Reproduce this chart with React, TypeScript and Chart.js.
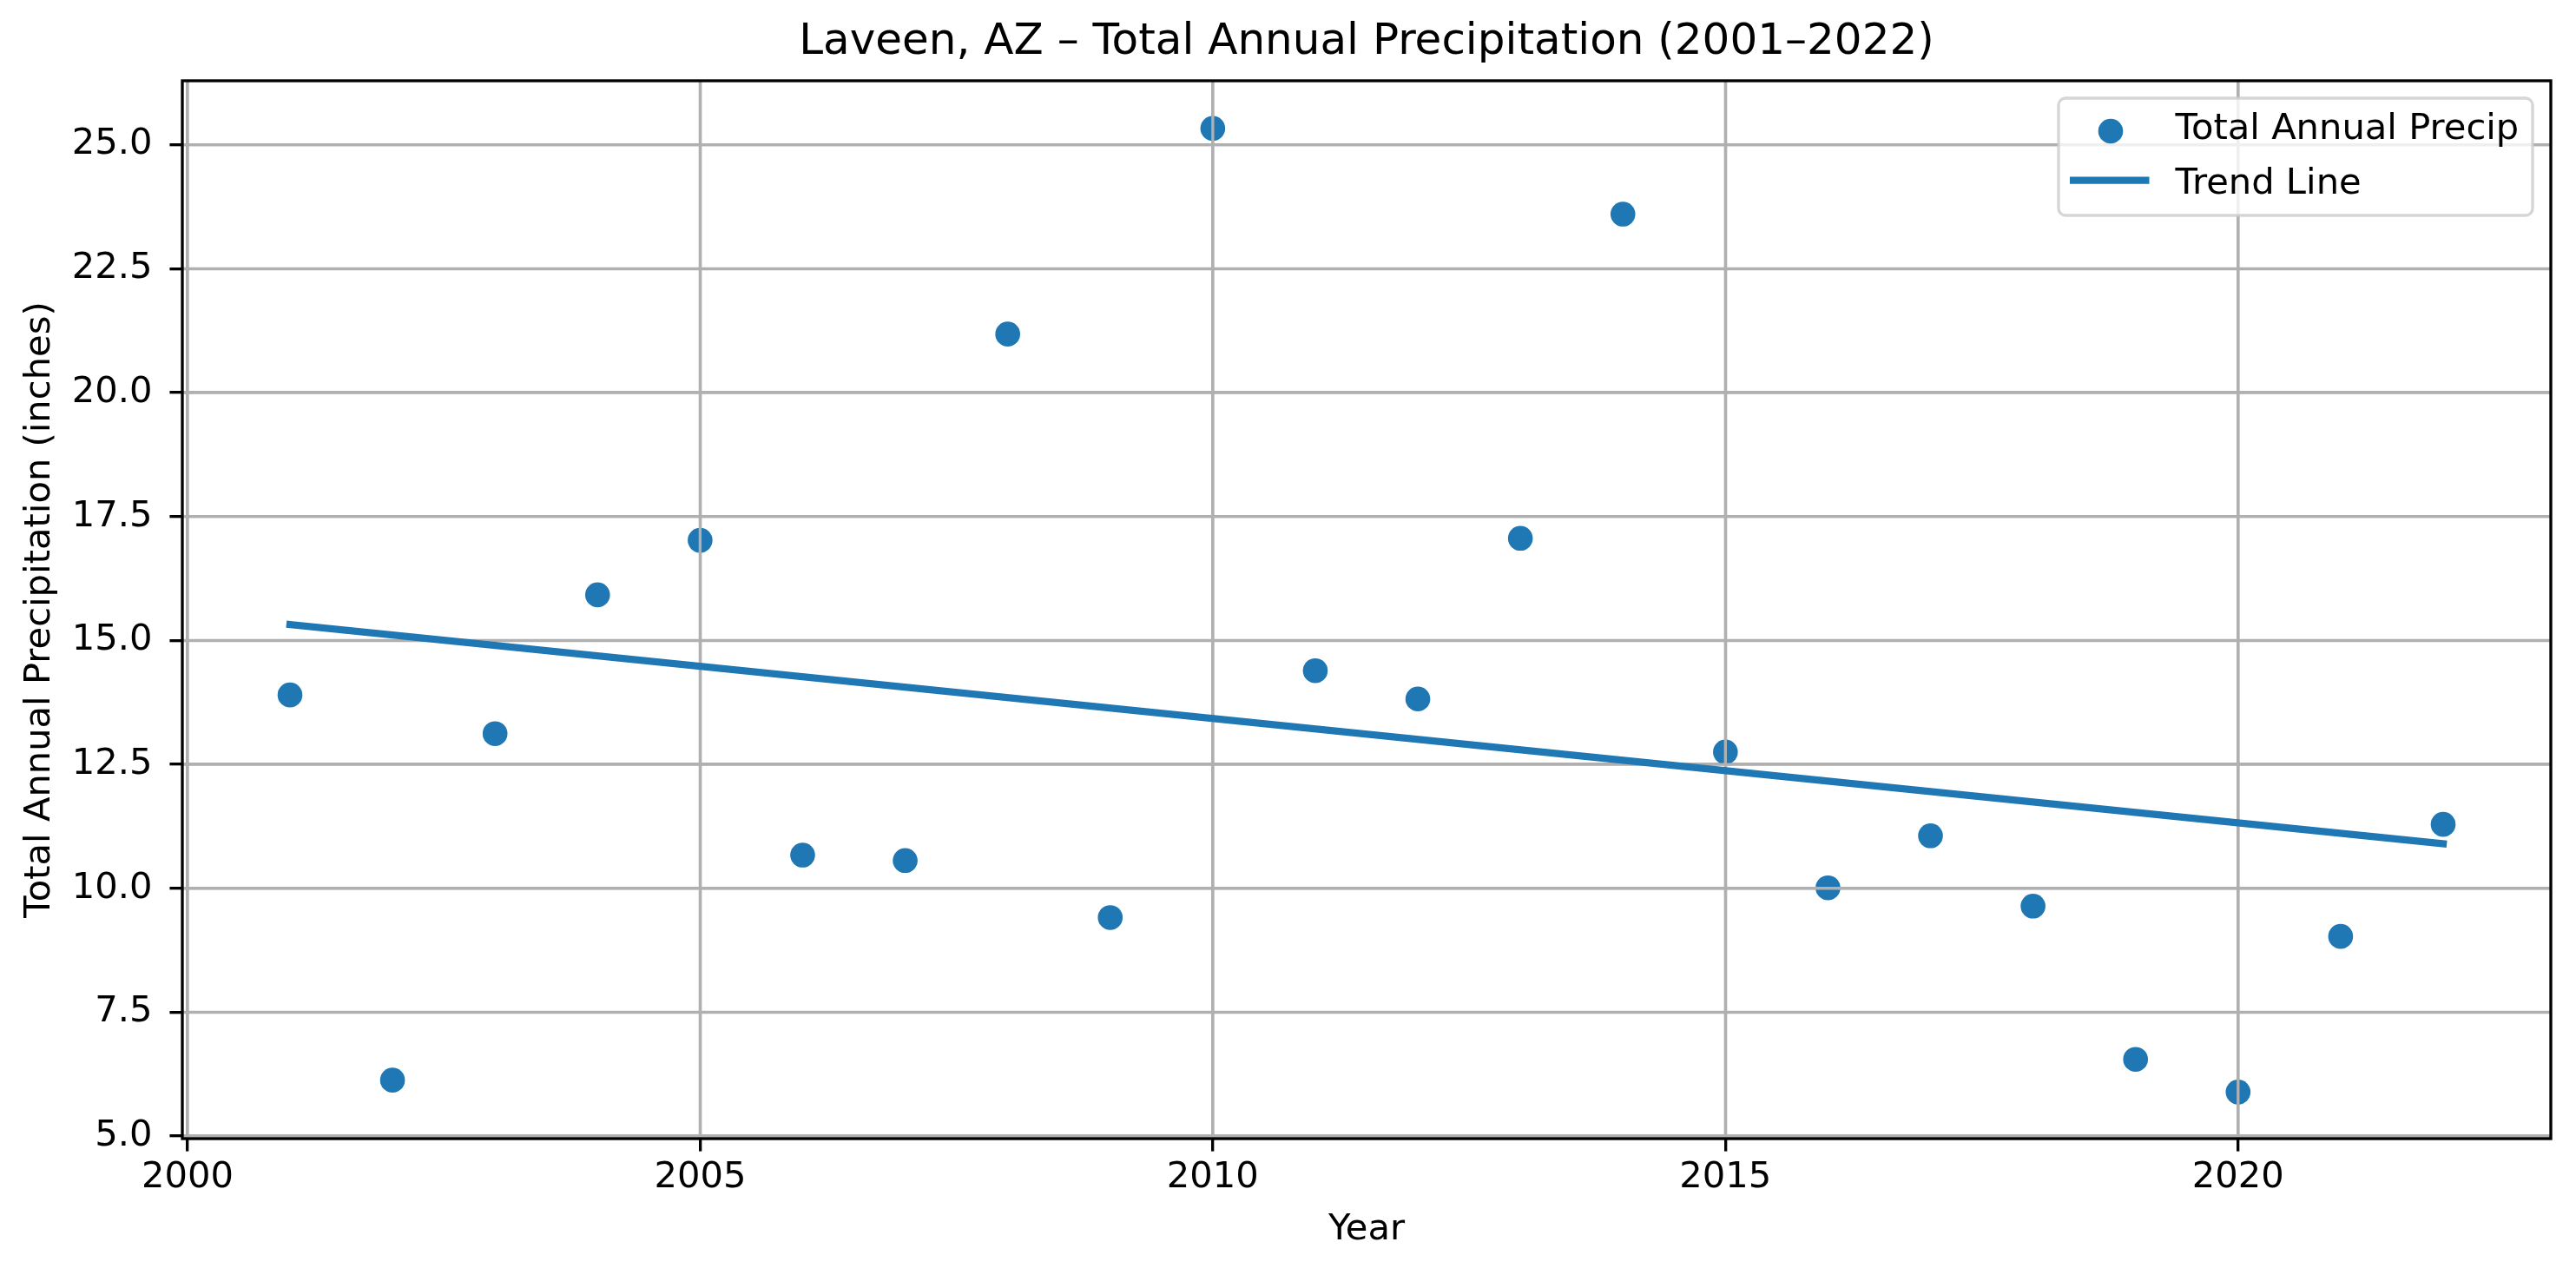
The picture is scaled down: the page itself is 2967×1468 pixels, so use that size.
import React, { useEffect, useRef } from 'react';
import { Chart, registerables } from 'chart.js';

Chart.register(...registerables);

// data
const years = [2001, 2002, 2003, 2004, 2005, 2006, 2007, 2008, 2009, 2010, 2011,
    2012, 2013, 2014, 2015, 2016, 2017, 2018, 2019, 2020, 2021, 2022];
const precipInches = [13.90, 6.13, 13.12, 15.92, 17.02, 10.67, 10.56, 21.18, 9.41, 25.33, 14.39,
    13.82, 17.06, 23.60, 12.75, 10.01, 11.06, 9.64, 6.55, 5.89, 9.03, 11.29];
const trendYears = [2001, 2022];
const trendInches = [15.32, 10.90];
const xTicks = [2000, 2005, 2010, 2015, 2020];
const yTicks = [5, 7.5, 10, 12.5, 15, 17.5, 20, 22.5, 25];
const seriesLabels = ['Total Annual Precip', 'Trend Line'];

const PT = 300 / 72;
const BLUE = '#1f77b4';
const GRID = '#b0b0b0';
const FONT = 'DejaVu Sans';
const TICK_SIZE = 10 * PT;

const framePlugin = {
    id: 'frame',
    afterDatasetDraw(chart: any, args: any) {
        // matplotlib draws the grid above the scatter markers
        if (args.index !== 0) return;
        const { ctx, chartArea: a, scales } = chart;
        ctx.save();
        ctx.strokeStyle = GRID;
        ctx.lineWidth = 0.8 * PT;
        ctx.beginPath();
        scales.x.ticks.forEach((t: any) => {
            const px = scales.x.getPixelForValue(t.value);
            ctx.moveTo(px, a.top);
            ctx.lineTo(px, a.bottom);
        });
        scales.y.ticks.forEach((t: any) => {
            const py = scales.y.getPixelForValue(t.value);
            ctx.moveTo(a.left, py);
            ctx.lineTo(a.right, py);
        });
        ctx.stroke();
        ctx.restore();
    },
    afterDatasetsDraw(chart: any) {
        const { ctx, chartArea: a } = chart;
        ctx.save();
        // spines
        ctx.strokeStyle = '#000';
        ctx.lineWidth = 0.8 * PT;
        ctx.strokeRect(a.left, a.top, a.right - a.left, a.bottom - a.top);

        // legend
        ctx.font = `${TICK_SIZE}px "${FONT}"`;
        const right = a.right - 21;
        const left = right - 546;
        const top = a.top + 20;
        const h = 135;
        ctx.beginPath();
        ctx.roundRect(left, top, right - left, h, 8);
        ctx.fillStyle = 'rgba(255,255,255,0.8)';
        ctx.fill();
        ctx.strokeStyle = 'rgba(204,204,204,0.8)';
        ctx.lineWidth = 0.8 * PT;
        ctx.stroke();

        ctx.fillStyle = BLUE;
        ctx.beginPath();
        ctx.arc(left + 60, a.top + 58, 14.3, 0, Math.PI * 2);
        ctx.fill();

        ctx.strokeStyle = BLUE;
        ctx.lineWidth = 2 * PT;
        ctx.lineCap = 'butt';
        ctx.beginPath();
        ctx.moveTo(left + 13, a.top + 114.7);
        ctx.lineTo(left + 104.5, a.top + 114.7);
        ctx.stroke();

        ctx.fillStyle = '#000';
        ctx.textBaseline = 'alphabetic';
        ctx.textAlign = 'left';
        ctx.fillText(seriesLabels[0], left + 134.6, a.top + 67);
        ctx.fillText(seriesLabels[1], left + 134.6, a.top + 130);
        ctx.restore();
    }
};

function PrecipChart() {
    const chartRef = useRef<HTMLCanvasElement>(null);
    const chartInstance = useRef<Chart | null>(null);

    useEffect(() => {
        if (!chartRef.current) return;
        if (chartInstance.current) chartInstance.current.destroy();

        Chart.defaults.font.family = FONT;
        Chart.defaults.color = '#000';

        const tickFont = { family: FONT, size: TICK_SIZE };
        const gridOpts = {
            color: GRID,
            lineWidth: 0.8 * PT,
            drawTicks: true,
            tickLength: 3.5 * PT,
            tickColor: '#000',
            tickWidth: 0.8 * PT,
        };

        chartInstance.current = new Chart(chartRef.current, {
            type: 'scatter',
            data: {
                datasets: [
                    {
                        label: seriesLabels[0],
                        data: years.map((x, i) => ({ x, y: precipInches[i] })),
                        backgroundColor: BLUE,
                        borderColor: BLUE,
                        pointRadius: 14.3,
                        pointBorderWidth: 0,
                        order: 2,
                    },
                    {
                        label: seriesLabels[1],
                        data: trendYears.map((x, i) => ({ x, y: trendInches[i] })),
                        showLine: true,
                        borderColor: BLUE,
                        backgroundColor: BLUE,
                        borderWidth: 2 * PT,
                        borderCapStyle: 'square',
                        pointRadius: 0,
                        fill: false,
                        order: 1,
                    },
                ],
            },
            options: {
                animation: false,
                responsive: true,
                maintainAspectRatio: false,
                layout: { padding: { left: 0, right: 29, top: 0, bottom: 0 } },
                plugins: {
                    legend: { display: false },
                    tooltip: { enabled: false },
                    title: {
                        display: true,
                        text: 'Laveen, AZ – Total Annual Precipitation (2001–2022)',
                        font: { family: FONT, size: 12 * PT, weight: 'normal' },
                        color: '#000',
                        padding: { top: 19, bottom: 14 },
                        fullSize: false,
                    },
                },
                scales: {
                    x: {
                        type: 'linear',
                        min: 1999.95,
                        max: 2023.05,
                        afterBuildTicks: (s: any) => { s.ticks = xTicks.map(v => ({ value: v })); },
                        afterFit: (s: any) => { s.height = 157; },
                        grid: gridOpts,
                        border: { display: false },
                        ticks: {
                            font: tickFont,
                            color: '#000',
                            padding: 6,
                            maxRotation: 0,
                            autoSkip: false,
                            callback: (v: any) => String(v),
                        },
                        title: {
                            display: true,
                            text: 'Year',
                            font: tickFont,
                            color: '#000',
                            padding: { top: 0, bottom: 27 },
                        },
                    },
                    y: {
                        type: 'linear',
                        min: 4.95,
                        max: 26.29,
                        afterBuildTicks: (s: any) => { s.ticks = yTicks.map(v => ({ value: v })); },
                        afterFit: (s: any) => { s.width = 210; },
                        grid: gridOpts,
                        border: { display: false },
                        ticks: {
                            font: tickFont,
                            color: '#000',
                            padding: 20,
                            autoSkip: false,
                            callback: (v: any) => Number(v).toFixed(1),
                        },
                        title: {
                            display: true,
                            text: 'Total Annual Precipitation (inches)',
                            font: tickFont,
                            color: '#000',
                            padding: { top: 21, bottom: 0 },
                        },
                    },
                },
            } as any,
            plugins: [framePlugin],
        });

        return () => {
            if (chartInstance.current) {
                chartInstance.current.destroy();
                chartInstance.current = null;
            }
        };
    }, []);

    return (
        <div style={{ position: 'fixed', left: 0, top: 0, width: '2967px', height: '1468px', background: '#fff' }}>
            <canvas ref={chartRef}></canvas>
        </div>
    );
}

export default function App() {
    return <PrecipChart />;
}
